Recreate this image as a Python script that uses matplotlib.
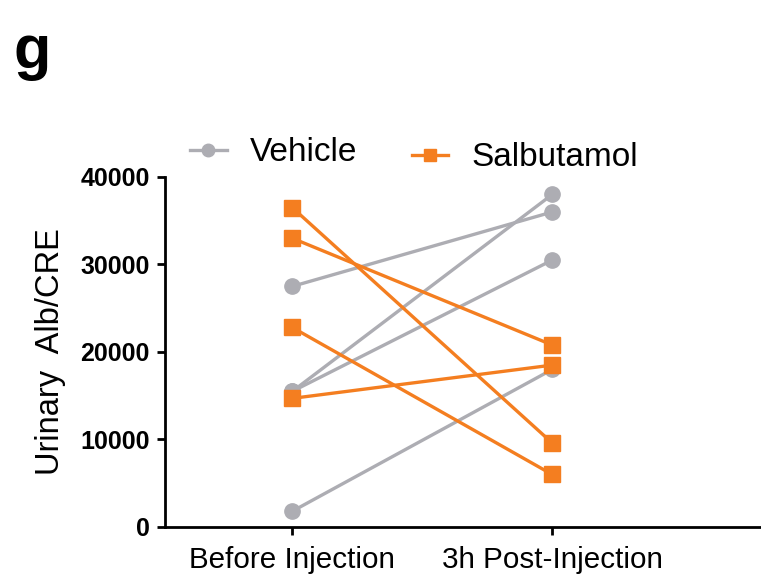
import matplotlib.pyplot as plt
from matplotlib.lines import Line2D

plt.rcParams['font.family'] = ['Liberation Sans', 'DejaVu Sans']

groups = ["Before Injection", "3h Post-Injection"]
vehicle_before = [1800, 15500, 15500, 27500]
vehicle_after = [18000, 38000, 30500, 36000]
salb_before = [36500, 33000, 22800, 14700]
salb_after = [9600, 20800, 6000, 18500]

gray = "#ADADB3"
orange = "#F47E20"

fig = plt.figure(figsize=(7.61, 5.83), dpi=100)
ax = fig.add_axes([0.2168, 0.0961, 0.782, 0.6003])

x = [0, 1]
for b, a in zip(vehicle_before, vehicle_after):
    ax.plot(x, [b, a], color=gray, lw=2.4, marker="o", ms=11, clip_on=False, zorder=3)
for b, a in zip(salb_before, salb_after):
    ax.plot(x, [b, a], color=orange, lw=2.4, marker="s", ms=11, clip_on=False, zorder=4)

ax.set_xlim(-0.49, 1.8)
ax.set_ylim(0, 40000)
ax.set_yticks([0, 10000, 20000, 30000, 40000])
ax.set_xticks(x)
ax.set_xticklabels(groups, fontsize=21.3)
for lbl in ax.get_yticklabels():
    lbl.set_fontweight("bold")
    lbl.set_fontsize(18)
ax.set_ylabel("Urinary  Alb/CRE", fontsize=23.5, labelpad=10)

for s in ["top", "right"]:
    ax.spines[s].set_visible(False)
for s in ["left", "bottom"]:
    ax.spines[s].set_linewidth(2)
ax.tick_params(axis="y", direction="out", length=6, width=2, pad=5)
ax.tick_params(axis="x", direction="out", length=6, width=2, pad=8)

h1 = Line2D([], [], color=gray, lw=2.4, marker="o", ms=9)
h2 = Line2D([], [], color=orange, lw=2.4, marker="s", ms=9)
leg_kw = dict(frameon=False, fontsize=24, handlelength=1.1, handletextpad=0.7,
              borderpad=0, borderaxespad=0, loc="center left")
leg1 = fig.legend([h1], ["Vehicle"], bbox_to_anchor=(0.2497, 0.7376), **leg_kw)
leg2 = fig.legend([h2], ["Salbutamol"], bbox_to_anchor=(0.541, 0.729), **leg_kw)

fig.text(0.018, 0.91, "g", fontsize=44, fontweight="bold", va="center")

fig.savefig("out.png", dpi=100)
